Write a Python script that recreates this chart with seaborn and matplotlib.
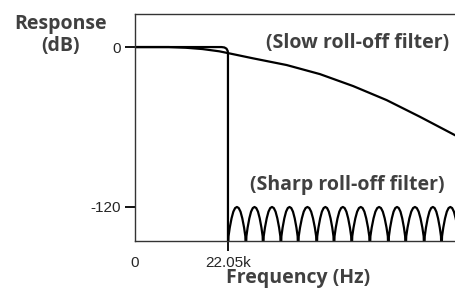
import numpy as np
import pandas as pd
import matplotlib
matplotlib.use("Agg")
import matplotlib.pyplot as plt
import seaborn as sns

# slow roll-off filter response (kHz, dB)
slow_freq = [0, 8, 12, 16, 20, 22, 28.05, 35.97, 43.86, 51.76, 59.68, 67.57, 76]
slow_db = [0, 0, -0.5, -1.5, -3.2, -4.5, -8.5, -13.5, -20.3, -29.3, -39.8, -52.3, -66.3]

# sharp roll-off filter passband and cliff
sharp_freq = [0, 20.5, 21.2, 21.7, 22.0, 22.05, 22.05]
sharp_db = [0, 0, -0.3, -1.2, -3.0, -5.0, -160]

# stopband lobes: null positions (kHz) and one lobe profile (fraction of lobe, dB)
lobe_nulls = [22.05, 26.3, 30.4, 34.6, 38.7, 43.1, 47.2, 51.4, 55.7, 60.1, 64.2, 68.6, 72.7, 76.9]
lobe_frac = [0, 0.03, 0.06, 0.1, 0.15, 0.2, 0.3, 0.4, 0.5, 0.6, 0.7, 0.8, 0.85, 0.9, 0.94, 0.97]
lobe_db = [-155, -142, -139, -135.5, -132, -128.5, -123.5, -120.8, -120,
           -120.8, -123.5, -128.5, -132, -135.5, -139, -142]

ytick_vals = [0, -120]
ytick_labels = ["0", "-120"]
xtick_vals = [0, 22.05]
xtick_labels = ["0", "22.05k"]

sns.set_style("ticks")
plt.rcParams["font.family"] = ["Liberation Sans", "DejaVu Sans"]

lobe_x, lobe_y = [], []
for a, b in zip(lobe_nulls[:-1], lobe_nulls[1:]):
    for f, d in zip(lobe_frac, lobe_db):
        lobe_x.append(a + f * (b - a))
        lobe_y.append(d)
lobe_x.append(lobe_nulls[-1])
lobe_y.append(lobe_db[0])
lobes = pd.DataFrame({"freq": lobe_x, "db": lobe_y})

fig = plt.figure(figsize=(4.55, 2.9), dpi=100)
ax = fig.add_axes([135 / 455, 49.3 / 290, 320 / 455, 226.7 / 290])

lw = 1.6
sns.lineplot(x=slow_freq, y=slow_db, ax=ax, color="black", lw=lw, estimator=None, sort=False)
sns.lineplot(x=sharp_freq, y=sharp_db, ax=ax, color="black", lw=lw, estimator=None, sort=False)
sns.lineplot(data=lobes, x="freq", y="db", ax=ax, color="black", lw=lw, estimator=None, sort=False)

ax.set_xlim(0, 75.9)
ax.set_ylim(-145.3, 24.8)

ax.set_yticks(ytick_vals)
ax.set_yticklabels(ytick_labels, fontsize=11)
ax.set_xticks(xtick_vals)
ax.set_xticklabels(xtick_labels, fontsize=11)
ax.tick_params(axis="both", length=7, width=1.3, color="black", pad=3)
ax.tick_params(axis="x", pad=4)
ax.xaxis.get_major_ticks()[0].tick1line.set_visible(False)
ax.set_xlabel("")
ax.set_ylabel("")

for side in ["left", "top", "bottom"]:
    ax.spines[side].set_linewidth(1.0)
    ax.spines[side].set_color("#333333")
ax.spines["right"].set_visible(False)

bold = dict(family=["Open Sans", "DejaVu Sans"], fontweight="bold", color="#404040", fontsize=14)
fig.text(61 / 455, 1 - 35 / 290, "Response\n(dB)", ha="center", va="center", linespacing=1.1, **bold)
fig.text(449 / 455, 1 - 43 / 290, "(Slow roll-off filter)", ha="right", va="center", **bold)
fig.text(445 / 455, 1 - 185 / 290, "(Sharp roll-off filter)", ha="right", va="center", **bold)
fig.text(298 / 455, 1 - 278 / 290, "Frequency (Hz)", ha="center", va="center", **bold)

fig.savefig("out.png", dpi=100)
